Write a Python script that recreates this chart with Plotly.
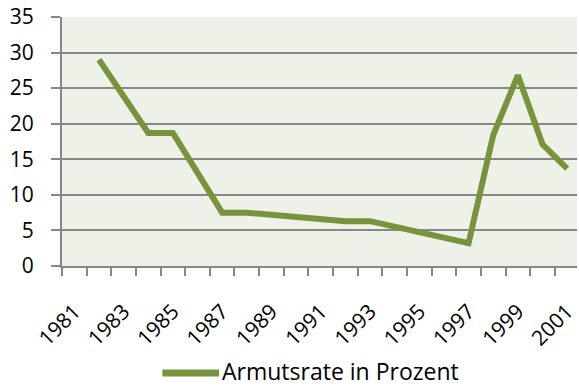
import plotly.graph_objects as go

# Poverty rate (percent) by year
years = [1982, 1984, 1985, 1987, 1988, 1992, 1993, 1997, 1998, 1999, 2000, 2001]
rate = [29.0, 18.7, 18.7, 7.5, 7.5, 6.3, 6.3, 3.2, 18.4, 26.8, 17.1, 13.7]
tick_years = list(range(1981, 2002, 2))
series_name = "Armutsrate in Prozent"

LINE_GREEN = "#77933C"
GRID_GREY = "#878787"
FONT = "Open Sans"

fig = go.Figure()
fig.add_trace(go.Scatter(
    x=years, y=rate, mode="lines", name=series_name,
    line=dict(color=LINE_GREEN, width=6),
    showlegend=False,
))

# Legend key drawn by hand so the sample line can be longer
fig.add_shape(type="line", xref="paper", yref="paper",
              x0=0.195, x1=0.305, y0=-0.43, y1=-0.43,
              line=dict(color=LINE_GREEN, width=7))
fig.add_annotation(text=series_name, xref="paper", yref="paper",
                   x=0.308, y=-0.422, xanchor="left", yanchor="middle",
                   showarrow=False, borderpad=0,
                   font=dict(family=FONT, size=23, color="#000"))

fig.update_layout(
    width=579, height=387,
    margin=dict(l=62, r=0, t=17, b=121),
    paper_bgcolor="white",
    plot_bgcolor="#EEF1E7",
    font=dict(family=FONT, size=21, color="#000"),
    xaxis=dict(
        range=[1980.5, 2001.4],
        tickmode="array", tickvals=tick_years,
        ticktext=[str(y) for y in tick_years],
        tickangle=-45, ticks="", showgrid=False,
        ticklabeloverflow="allow", ticklabelstandoff=23,
        showline=True, linecolor=GRID_GREY, linewidth=2,
        minor=dict(ticks="outside", dtick=1, tick0=1980.5, ticklen=8,
                   tickcolor=GRID_GREY, tickwidth=2, showgrid=False),
        zeroline=False,
    ),
    yaxis=dict(
        range=[0, 35], dtick=5, tick0=0,
        ticks="outside", ticklen=9, tickcolor=GRID_GREY, tickwidth=2,
        showgrid=True, gridcolor=GRID_GREY, gridwidth=2,
        showline=True, linecolor=GRID_GREY, linewidth=2,
        zeroline=False, ticklabelstandoff=13,
    ),
)

fig.write_html("out.html")
